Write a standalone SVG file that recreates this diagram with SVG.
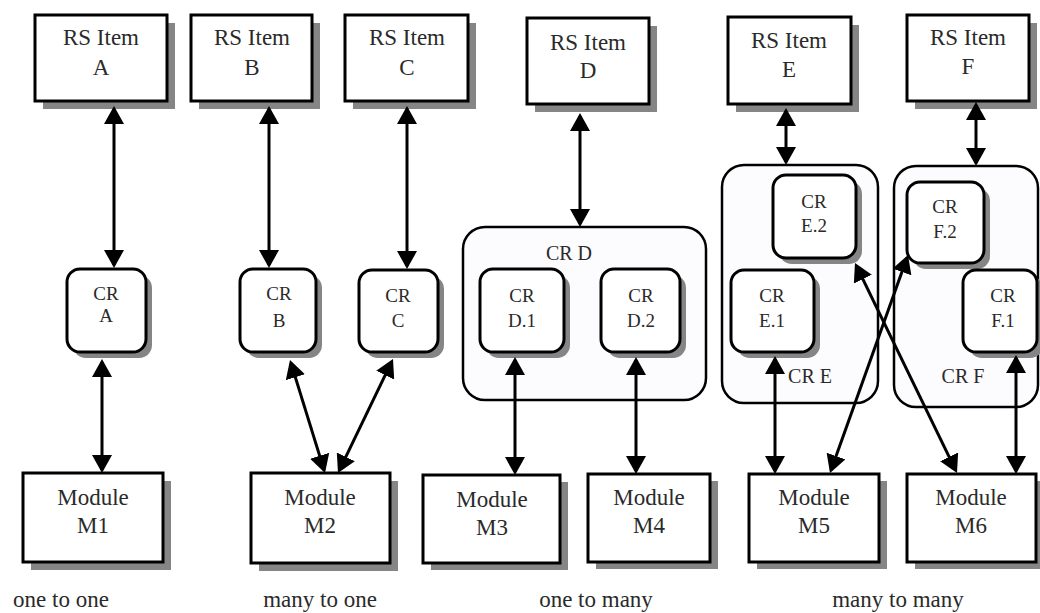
<svg xmlns="http://www.w3.org/2000/svg" width="1040" height="613" viewBox="0 0 1040 613" font-family="'Liberation Serif', 'DejaVu Serif', serif">
<style>
.box{fill:#fff;stroke:#000;stroke-width:3}
.sh{fill:#858585}
.crb{fill:#fff;stroke:#000;stroke-width:3}
.cont{fill:#fcfbfe;stroke:#000;stroke-width:2.5}
text{font-family:'Liberation Serif','DejaVu Serif',serif;fill:#2a2a2a;text-anchor:middle}
.big{font-size:23px}
.sm{font-size:19px}
.lbl{font-size:20px}
.cap{font-size:23px}
.c{stroke:#000;stroke-width:3;fill:none;marker-start:url(#ah);marker-end:url(#ah)}
</style>
<defs>
<marker id="ah" markerUnits="userSpaceOnUse" markerWidth="20" markerHeight="20" refX="15" refY="10" orient="auto-start-reverse">
<path d="M0,0 L18,10 L0,20 Z" fill="#000"/>
</marker>
</defs>
<rect width="1040" height="613" fill="#fff"/>

<!-- RS items -->
<g id="rsA"><rect class="sh" x="43" y="23" width="132" height="86"/><rect class="box" x="35" y="15" width="132" height="86"/><text class="big" x="101" y="45">RS Item</text><text class="big" x="101" y="75">A</text></g>
<g id="rsB"><rect class="sh" x="199" y="23" width="121" height="86"/><rect class="box" x="191" y="15" width="121" height="86"/><text class="big" x="252" y="45">RS Item</text><text class="big" x="252" y="75">B</text></g>
<g id="rsC"><rect class="sh" x="353" y="23" width="123" height="86"/><rect class="box" x="345" y="15" width="123" height="86"/><text class="big" x="407" y="45">RS Item</text><text class="big" x="407" y="75">C</text></g>
<g id="rsD"><rect class="sh" x="535" y="26" width="122" height="86"/><rect class="box" x="527" y="18" width="122" height="86"/><text class="big" x="588" y="50">RS Item</text><text class="big" x="588" y="78">D</text></g>
<g id="rsE"><rect class="sh" x="736" y="25" width="123" height="87"/><rect class="box" x="728" y="17" width="123" height="87"/><text class="big" x="789" y="48">RS Item</text><text class="big" x="789" y="77">E</text></g>
<g id="rsF"><rect class="sh" x="915" y="23" width="122" height="86"/><rect class="box" x="907" y="15" width="122" height="86"/><text class="big" x="968" y="45">RS Item</text><text class="big" x="968" y="74">F</text></g>

<!-- containers -->
<g id="crD"><rect class="cont" x="463" y="227" width="243" height="173" rx="22"/><text class="lbl" x="569" y="260">CR D</text></g>
<g id="crE"><rect class="cont" x="722" y="165" width="156" height="238" rx="22"/><text class="lbl" x="810" y="383">CR E</text></g>
<g id="crF"><rect class="cont" x="894" y="166" width="144" height="241" rx="22"/><text class="lbl" x="963" y="383">CR F</text></g>

<!-- CR boxes -->
<g id="crA"><rect class="sh" x="73" y="275" width="79" height="83" rx="13"/><rect class="crb" x="67" y="269" width="79" height="83" rx="13"/><text class="sm" x="106" y="300">CR</text><text class="sm" x="106" y="322">A</text></g>
<g id="crB"><rect class="sh" x="246" y="275" width="76" height="83" rx="13"/><rect class="crb" x="240" y="269" width="76" height="83" rx="13"/><text class="sm" x="279" y="300">CR</text><text class="sm" x="279" y="327">B</text></g>
<g id="crC"><rect class="sh" x="365" y="276" width="79" height="82" rx="13"/><rect class="crb" x="359" y="270" width="79" height="82" rx="13"/><text class="sm" x="398" y="302">CR</text><text class="sm" x="398" y="327">C</text></g>
<g id="crD1"><rect class="sh" x="486" y="275" width="84" height="83" rx="13"/><rect class="crb" x="480" y="269" width="84" height="83" rx="13"/><text class="sm" x="522" y="302">CR</text><text class="sm" x="522" y="327">D.1</text></g>
<g id="crD2"><rect class="sh" x="607" y="275" width="79" height="83" rx="13"/><rect class="crb" x="601" y="269" width="79" height="83" rx="13"/><text class="sm" x="641" y="302">CR</text><text class="sm" x="641" y="327">D.2</text></g>
<g id="crE2"><rect class="sh" x="779" y="181" width="83" height="83" rx="13"/><rect class="crb" x="773" y="175" width="83" height="83" rx="13"/><text class="sm" x="814" y="208">CR</text><text class="sm" x="814" y="232">E.2</text></g>
<g id="crE1"><rect class="sh" x="737" y="276" width="83" height="82" rx="13"/><rect class="crb" x="731" y="270" width="83" height="82" rx="13"/><text class="sm" x="772" y="302">CR</text><text class="sm" x="772" y="327">E.1</text></g>
<g id="crF2"><rect class="sh" x="913" y="188" width="77" height="81" rx="13"/><rect class="crb" x="907" y="182" width="77" height="81" rx="13"/><text class="sm" x="945" y="213">CR</text><text class="sm" x="945" y="238">F.2</text></g>
<g id="crF1"><rect class="sh" x="969" y="276" width="74" height="82" rx="13"/><rect class="crb" x="963" y="270" width="74" height="82" rx="13"/><text class="sm" x="1003" y="302">CR</text><text class="sm" x="1003" y="327">F.1</text></g>

<!-- Modules -->
<g id="m1"><rect class="sh" x="31" y="481" width="140" height="89"/><rect class="box" x="23" y="473" width="140" height="89"/><text class="big" x="93" y="505">Module</text><text class="big" x="93" y="533">M1</text></g>
<g id="m2"><rect class="sh" x="259" y="481" width="139" height="90"/><rect class="box" x="251" y="473" width="139" height="90"/><text class="big" x="320" y="505">Module</text><text class="big" x="320" y="533">M2</text></g>
<g id="m3"><rect class="sh" x="431" y="482" width="137" height="88"/><rect class="box" x="423" y="475" width="137" height="88"/><text class="big" x="492" y="507">Module</text><text class="big" x="492" y="535">M3</text></g>
<g id="m4"><rect class="sh" x="596" y="481" width="122" height="88"/><rect class="box" x="588" y="474" width="122" height="88"/><text class="big" x="649" y="505">Module</text><text class="big" x="649" y="533">M4</text></g>
<g id="m5"><rect class="sh" x="757" y="481" width="130" height="88"/><rect class="box" x="749" y="474" width="130" height="88"/><text class="big" x="814" y="505">Module</text><text class="big" x="814" y="533">M5</text></g>
<g id="m6"><rect class="sh" x="915" y="481" width="129" height="88"/><rect class="box" x="907" y="474" width="129" height="88"/><text class="big" x="971" y="505">Module</text><text class="big" x="971" y="533">M6</text></g>

<!-- connectors -->
<g id="connectors">
<line class="c" x1="114" y1="109" x2="114" y2="265"/>
<line class="c" x1="102" y1="362" x2="102" y2="470"/>
<line class="c" x1="269" y1="109" x2="269" y2="265"/>
<line class="c" x1="407" y1="109" x2="407" y2="266"/>
<line class="c" x1="290.9" y1="362.9" x2="324.1" y2="470.1"/>
<line class="c" x1="391.7" y1="361.7" x2="339.3" y2="470.3"/>
<line class="c" x1="580" y1="116" x2="580" y2="224"/>
<line class="c" x1="515" y1="360" x2="515" y2="472"/>
<line class="c" x1="636" y1="360" x2="636" y2="471"/>
<line class="c" x1="786" y1="111" x2="786" y2="162"/>
<line class="c" x1="976" y1="105" x2="976" y2="163"/>
<line class="c" x1="775" y1="359" x2="775" y2="471"/>
<line class="c" x1="1016" y1="358" x2="1016" y2="471"/>
<line class="c" x1="856.3" y1="265.7" x2="955.7" y2="470.3"/>
<line class="c" x1="907" y1="257.8" x2="831" y2="470.2"/>
</g>

<!-- captions -->
<text class="cap" x="61" y="607">one to one</text>
<text class="cap" x="320" y="607">many to one</text>
<text class="cap" x="596" y="607">one to many</text>
<text class="cap" x="898" y="607">many to many</text>
</svg>
